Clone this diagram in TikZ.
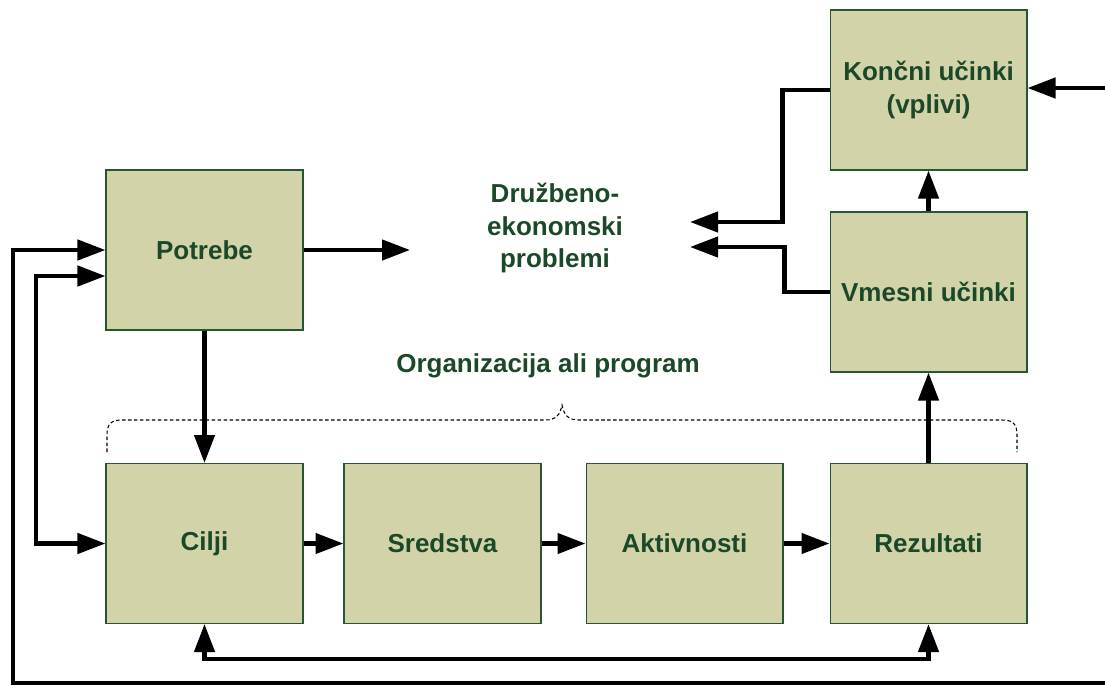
\documentclass[tikz,border=0pt]{standalone}
\usepackage{fontspec}
\setmainfont{Liberation Sans}
\usepackage{xcolor}
\usepackage{tikz}
\usetikzlibrary{positioning,arrows.meta}
\definecolor{boxfill}{RGB}{211,211,170}
\definecolor{boxline}{RGB}{40,85,50}
\definecolor{txtgreen}{RGB}{27,72,40}

\begin{document}
\begin{tikzpicture}[x=0.02cm, y=-0.02cm,
   every node/.style={font=\bfseries\fontsize{14.8}{18.7}\selectfont, text=txtgreen},
   blok/.style={draw=boxline, fill=boxfill, line width=0.6pt, minimum width=3.94cm, minimum height=3.2cm, align=center},
   tok/.style={line width=2.5pt, -{Triangle[length=0.56cm,width=0.4cm]}},
   dvotok/.style={line width=2.5pt, {Triangle[length=0.56cm,width=0.4cm]}-{Triangle[length=0.56cm,width=0.4cm]}},
   zavit/.style={dashed, dash pattern=on 2pt off 1.4pt, line width=0.6pt, black}]
   % Frame (always first!)
   \useasboundingbox (0,0) rectangle (1105,684);
    % Boxes
    \node[blok] (potrebe) at (204.5,250) {Potrebe};
    \node[blok] (cilji) at (204.5,543.5) {Cilji};
    \node[blok] (sredstva) at (442.5,543.5) {Sredstva};
    \node[blok] (aktivnosti) at (684.5,543.5) {Aktivnosti};
    \node[blok] (rezultati) at (928.5,543.5) {Rezultati};
    \node[blok] (vmesni) at (928.5,292) {Vmesni u\v{c}inki};
    \node[blok] (koncni) at (928.5,90) {Kon\v{c}ni u\v{c}inki\\(vplivi)};

    % Free texts
    \node[align=center] (problemi) at (555,228) {Dru\v{z}beno-\\ekonomski\\problemi};
    \node (organizacija) at (548,366) {Organizacija ali program};

    % Loose ends
    \coordinate (probL) at (410,250);
    \coordinate (pr1) at (690,222);
    \coordinate (pr2) at (690,247);
    \coordinate (innerT) at (36,276);
    \coordinate (outerB) at (13,683);
    \coordinate (desno) at (1105,683);
    \coordinate (desnoK) at (1105,88);

    % Brace over the programme
    \draw[zavit] (107,452) -- (107,435) .. controls (107,424) and (111,420) .. (122,420) -- (545,420)
       .. controls (556,420) and (560,415) .. (562,405) .. controls (564,415) and (568,420) .. (579,420)
       -- (1002,420) .. controls (1013,420) and (1017,424) .. (1017,435) -- (1017,452);

    % Flows
    \draw[tok] (potrebe.east) -- (probL);
    \draw[tok] (potrebe.south) -- (cilji.north);
    \draw[tok] (cilji) -- (sredstva);
    \draw[tok] (sredstva) -- (aktivnosti);
    \draw[tok] (aktivnosti) -- (rezultati);
    \draw[tok] (rezultati.north) -- (vmesni.south);
    \draw[tok] (vmesni.north) -- (koncni.south);
    \draw[tok] (koncni.west) -- ++(-47,0) |- (pr1);
    \draw[tok] (vmesni.west) -- ++(-45,0) |- (pr2);
    \draw[tok] (desnoK) -- (koncni.east |- desnoK);

    % Feedback
    \draw[dvotok] (cilji.south) -- ++(0,35) -| (rezultati.south);
    \draw[dvotok] (potrebe.west |- innerT) -- (innerT) |- (cilji.west);
    \draw[tok] (desno) -- (outerB) |- (potrebe.west);
\end{tikzpicture}
\end{document}
